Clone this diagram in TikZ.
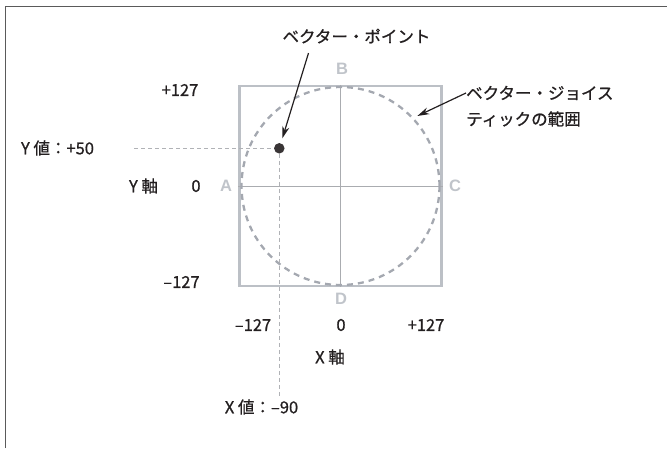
\documentclass[tikz,border=0pt]{standalone}
\usepackage{fontspec}
\setmainfont{Noto Sans CJK JP}[FakeBold=0.8]
\newfontfamily\letterfont{Liberation Sans}
\usetikzlibrary{arrows.meta,positioning}
\definecolor{vjtext}{RGB}{35,31,32}
\definecolor{vjframe}{RGB}{90,90,90}
\definecolor{vjpad}{RGB}{188,192,198}
\definecolor{vjcross}{RGB}{170,172,176}
\definecolor{vjrange}{RGB}{164,168,176}
\definecolor{vjguide}{RGB}{176,178,182}
\definecolor{vjletter}{RGB}{192,196,202}

\begin{document}
\begin{tikzpicture}[x=1pt,y=-1pt,
  lbl/.style={font=\fontsize{16.5}{26}\selectfont,text=vjtext,inner sep=0pt},
  corner/.style={font=\letterfont\bfseries\fontsize{16.5}{20}\selectfont,text=vjletter,inner sep=0pt},
  guide/.style={vjguide,line width=0.9pt,dash pattern=on 4pt off 3pt},
  callout/.style={-{Stealth[length=12pt,width=7pt]},line width=1.2pt,vjtext}
]
  \useasboundingbox (0,0) rectangle (667,448);
  % Outer frame (top and left edges only)
  \draw[vjframe,line width=1.6pt] (5.5,448) -- (5.5,6.5) -- (667,6.5);

  % Joystick pad
  \node[draw=vjpad,line width=2.5pt,minimum width=202pt,minimum height=200pt,inner sep=0pt] (pad) at (340.5,186) {};
  \draw[vjcross,line width=0.9pt] (pad.north) -- (pad.south);
  \draw[vjcross,line width=0.9pt] (pad.west) -- (pad.east);
  \node[circle,draw=vjrange,line width=2.3pt,dash pattern=on 6pt off 5pt,minimum size=198pt,inner sep=0pt] (rng) at (340.5,186) {};

  % Corner letters
  \node[corner] (la) at (226,186) {A};
  \node[corner] (lb) at (342,69) {B};
  \node[corner] (lc) at (455,186) {C};
  \node[corner] (ld) at (341,299) {D};

  % Axis values
  \node[lbl] (ymax) at (180,90) {+127};
  \node[lbl] (yzero) at (196,186) {0};
  \node[lbl] (ymin) at (181.5,282) {–127};
  \node[lbl] (yaxis) at (143.5,186) {Y 軸};
  \node[lbl] (xmin) at (253,325) {–127};
  \node[lbl] (xzero) at (341,325) {0};
  \node[lbl] (xmax) at (426,325) {+127};
  \node[lbl] (xaxis) at (330,357) {X 軸};

  % Vector point and its guides
  \coordinate (yfree) at (134,148.3);
  \coordinate (xfree) at (279.3,396);
  \node[circle,fill=vjtext!90,minimum size=10.5pt,inner sep=0pt] (pt) at (279.3,148.3) {};
  \draw[guide] (yfree) -- (pt.west);
  \draw[guide] (pt.south) -- (xfree);
  \node[lbl] (yval) at (57.5,148) {Y 値：+50};
  \node[lbl] (xval) at (261.5,407) {X 値：–90};

  % Callouts
  \node[lbl] (vp) at (356.5,36) {ベクター・ポイント};
  \node[lbl,anchor=west] (j1) at (466,93) {ベクター・ジョイス};
  \node[lbl,anchor=west] (j2) at (466,119) {ティックの範囲};
  \draw[callout,shorten >=5pt] ([xshift=-48pt,yshift=-9.5pt]vp.south) -- (pt);
  \draw[callout,shorten >=4pt] (j1.west) -- (rng.43);
\end{tikzpicture}
\end{document}
